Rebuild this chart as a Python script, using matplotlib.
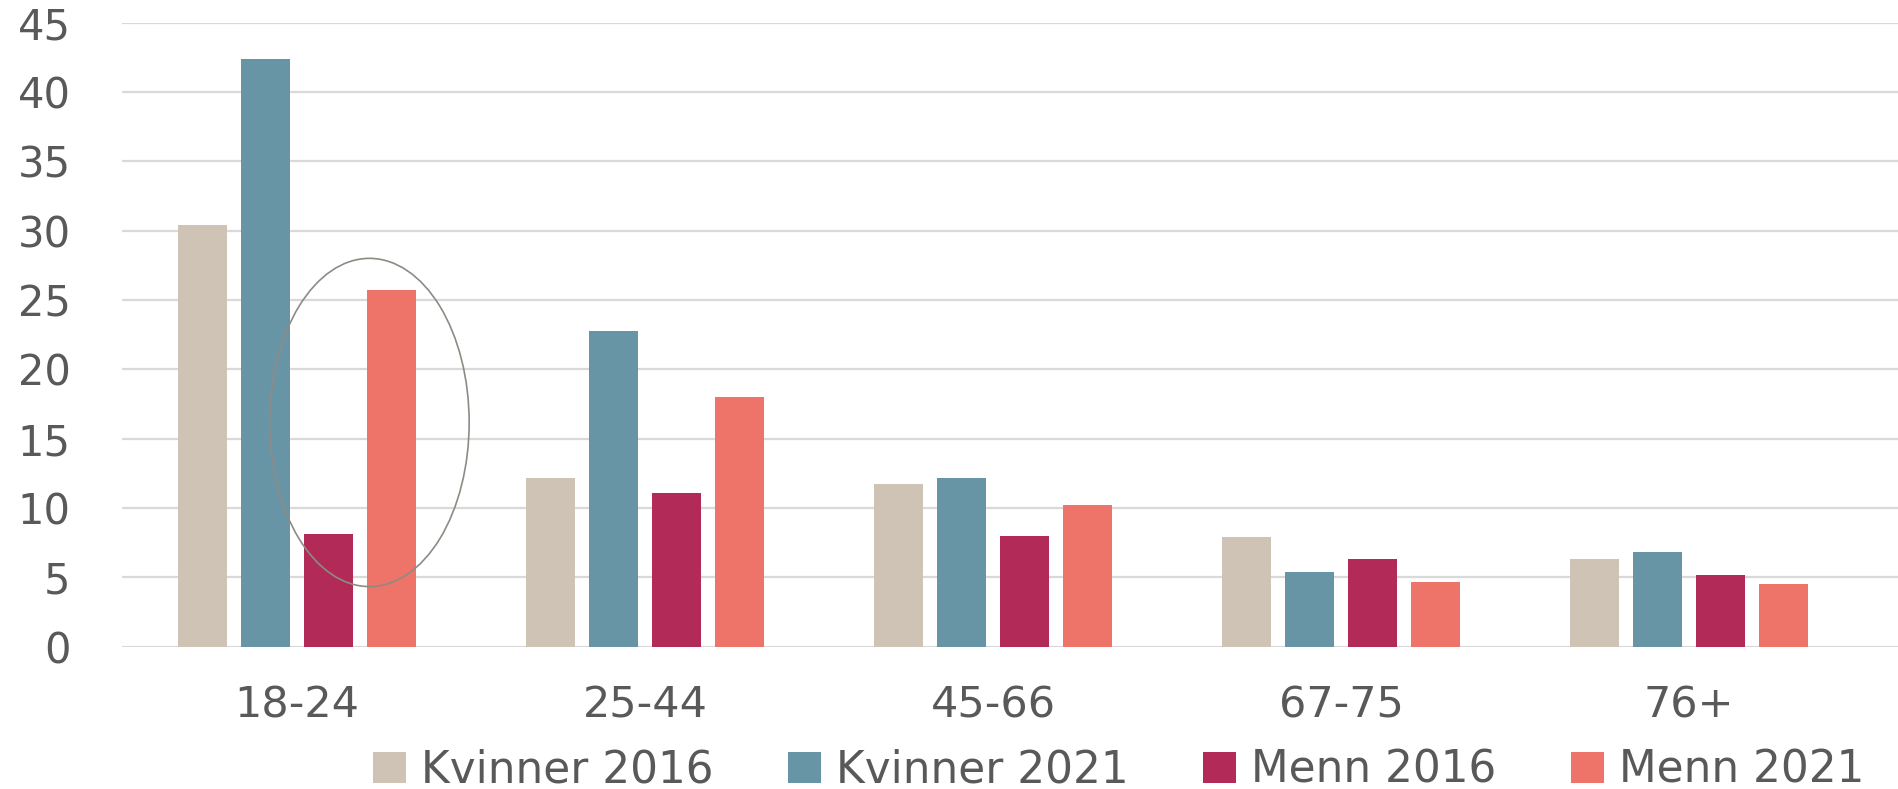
import numpy as np
import matplotlib.pyplot as plt
from matplotlib.patches import Ellipse, Patch

# aldersgrupper og andeler
groups = ['18-24', '25-44', '45-66', '67-75', '76+']
series = ['Kvinner 2016', 'Kvinner 2021', 'Menn 2016', 'Menn 2021']
kvinner_2016 = [30.4, 12.2, 11.7, 7.9, 6.3]
kvinner_2021 = [42.4, 22.8, 12.2, 5.4, 6.8]
menn_2016 = [8.1, 11.1, 8.0, 6.3, 5.2]
menn_2021 = [25.7, 18.0, 10.2, 4.7, 4.5]
colors = ['#cfc3b5', '#6795a6', '#b22b58', '#ee7469']

plt.rcParams['font.family'] = ['DejaVu Sans']
text_col = '#595959'

fig = plt.figure(figsize=(18.98, 7.89), dpi=100)
ax = fig.add_axes([122 / 1898, 1 - 646.7 / 789, 1 - 122 / 1898, (646.7 - 22.7) / 789])

x = np.arange(len(groups))
pitch = 0.181
width = 0.141
values = [kvinner_2016, kvinner_2021, menn_2016, menn_2021]
for i, (vals, name, c) in enumerate(zip(values, series, colors)):
    ax.bar(x + (i - 1.5) * pitch, vals, width, color=c, label=name, zorder=3)

# markering rundt 18-24 menn
ax.add_patch(Ellipse((0.208, 16.17), 0.573, 23.67, fill=False,
                     edgecolor='#8f8a84', linewidth=1.2, zorder=4))

ax.set_xlim(-0.503, 4.6)
ax.set_ylim(0, 45)
ax.set_yticks(range(0, 46, 5))
ax.set_xticks(x)
ax.set_xticklabels(groups)
ax.yaxis.grid(True, color='#d9d9d9', linewidth=1.6, zorder=0)
ax.set_axisbelow(True)
for s in ax.spines.values():
    s.set_visible(False)
ax.axhline(0, color='#d9d9d9', linewidth=2, zorder=2)
ax.tick_params(axis='both', length=0, labelcolor=text_col)
ax.tick_params(axis='y', pad=37, labelsize=30)
ax.tick_params(axis='x', pad=27, labelsize=31)

handles = [Patch(facecolor=c, edgecolor='none') for c in colors]
leg = fig.legend(handles, series, loc='center left', ncol=4,
                 bbox_to_anchor=(373 / 1898, 1 - 770 / 789), frameon=False,
                 fontsize=31.5, handlelength=0.75, handleheight=0.7,
                 handletextpad=0.35, columnspacing=1.7, borderaxespad=0,
                 borderpad=0)
for t in leg.get_texts():
    t.set_color(text_col)

fig.savefig('out.png', dpi=100)
